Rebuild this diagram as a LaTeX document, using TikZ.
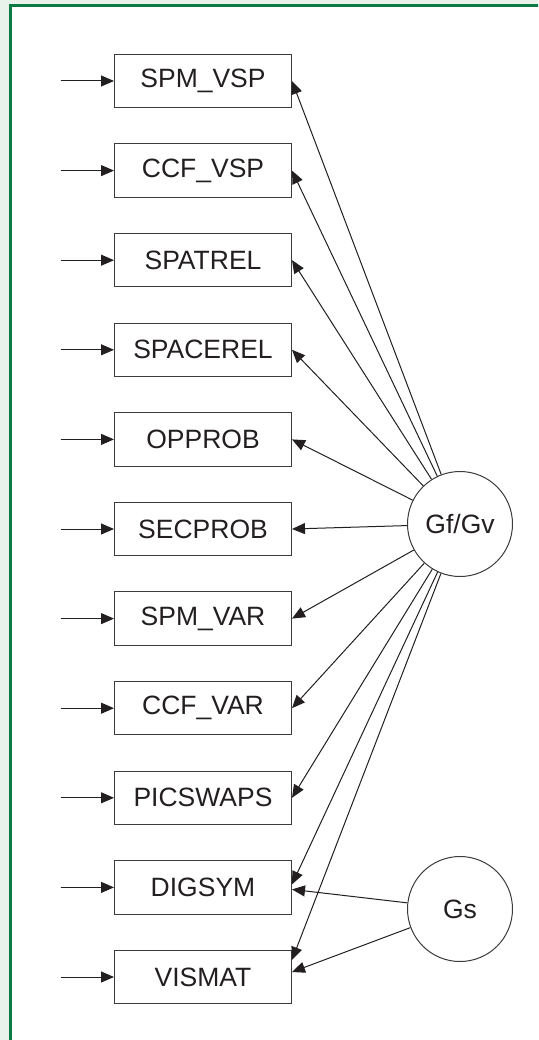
\documentclass[tikz,border=0pt]{standalone}
\usepackage{fontspec}
\setmainfont{Liberation Sans}
\usetikzlibrary{
  arrows.meta,
  positioning
}
\definecolor{panelgreen}{HTML}{EAF2EC}
\definecolor{framegreen}{HTML}{0B7A45}
\definecolor{boxgray}{HTML}{3C3C3C}
\definecolor{inkblack}{HTML}{231F20}
\tikzset{
  % For the light page behind the framed panel.
  panel/.style={
    fill=panelgreen},
%
  % For the green border of the white panel.
  frame/.style={
    draw=framegreen,
    fill=white,
    line width=2.5pt},
%
  % For observed test scores.
  measure/.style={
    draw=boxgray,
    line width=1pt,
    minimum width=177pt,
    minimum height=53.5pt,
    inner sep=0pt,
    text=inkblack,
    font=\fontsize{26.5}{30}\selectfont},
%
  % For latent factors.
  factor/.style={
    circle,
    draw=boxgray,
    line width=1pt,
    minimum size=105pt,
    inner sep=0pt,
    text=inkblack,
    font=\fontsize{26.5}{30}\selectfont},
%
  % For straight arrows with a filled head.
  loading/.style={
    draw=inkblack,
    line width=1pt,
    -{Triangle[length=13pt,width=11pt]}}
}

\begin{document}
\begin{tikzpicture}[x=1pt,y=-1pt]
  \useasboundingbox (0,0) rectangle (538,1040);
  \clip (0,0) rectangle (538,1040);
  \fill[panel] (0,0) rectangle (538,1040);
  \draw[frame] (10.3,5.5) rectangle (560,1060);

  \node[measure] (spmvsp) at (203,81) {SPM\_VSP};
  \node[measure, below=35.1pt of spmvsp] (ccfvsp) {CCF\_VSP};
  \node[measure, below=35.1pt of ccfvsp] (spatrel) {SPATREL};
  \node[measure, below=35.1pt of spatrel] (spacerel) {SPACEREL};
  \node[measure, below=35.1pt of spacerel] (opprob) {OPPROB};
  \node[measure, below=35.1pt of opprob] (secprob) {SECPROB};
  \node[measure, below=35.1pt of secprob] (spmvar) {SPM\_VAR};
  \node[measure, below=35.1pt of spmvar] (ccfvar) {CCF\_VAR};
  \node[measure, below=35.1pt of ccfvar] (picswaps) {PICSWAPS};
  \node[measure, below=35.1pt of picswaps] (digsym) {DIGSYM};
  \node[measure, below=35.1pt of digsym] (vismat) {VISMAT};

  \node[factor] (gfgv) at (460,524) {Gf/Gv};
  \node[factor] (gs) at (460,909) {Gs};

  % Free ends of the error arrows.
  \coordinate[left=53.5pt of spmvsp.west] (spmvsp in);
  \coordinate[left=53.5pt of ccfvsp.west] (ccfvsp in);
  \coordinate[left=53.5pt of spatrel.west] (spatrel in);
  \coordinate[left=53.5pt of spacerel.west] (spacerel in);
  \coordinate[left=53.5pt of opprob.west] (opprob in);
  \coordinate[left=53.5pt of secprob.west] (secprob in);
  \coordinate[left=53.5pt of spmvar.west] (spmvar in);
  \coordinate[left=53.5pt of ccfvar.west] (ccfvar in);
  \coordinate[left=53.5pt of picswaps.west] (picswaps in);
  \coordinate[left=53.5pt of digsym.west] (digsym in);
  \coordinate[left=53.5pt of vismat.west] (vismat in);

  \draw[loading] (spmvsp in) -- (spmvsp);
  \draw[loading] (ccfvsp in) -- (ccfvsp);
  \draw[loading] (spatrel in) -- (spatrel);
  \draw[loading] (spacerel in) -- (spacerel);
  \draw[loading] (opprob in) -- (opprob);
  \draw[loading] (secprob in) -- (secprob);
  \draw[loading] (spmvar in) -- (spmvar);
  \draw[loading] (ccfvar in) -- (ccfvar);
  \draw[loading] (picswaps in) -- (picswaps);
  \draw[loading] (digsym in) -- (digsym);
  \draw[loading] (vismat in) -- (vismat);

  % Loadings on Gf/Gv.
  \draw[loading] (gfgv) -- (spmvsp.east);
  \draw[loading] (gfgv) -- (ccfvsp.east);
  \draw[loading] (gfgv) -- (spatrel.east);
  \draw[loading] (gfgv) -- (spacerel.east);
  \draw[loading] (gfgv) -- (opprob.east);
  \draw[loading] (gfgv) -- (secprob.east);
  \draw[loading] (gfgv) -- (spmvar.east);
  \draw[loading] (gfgv) -- (ccfvar.east);
  \draw[loading] (gfgv) -- (picswaps.east);
  \draw[loading] (gfgv) -- ([yshift=3pt]digsym.east);
  \draw[loading] (gfgv) -- ([yshift=17pt]vismat.east);

  % Loadings on Gs.
  \draw[loading] (gs) -- ([yshift=-2pt]digsym.east);
  \draw[loading] (gs) -- ([yshift=5pt]vismat.east);
\end{tikzpicture}
\end{document}
